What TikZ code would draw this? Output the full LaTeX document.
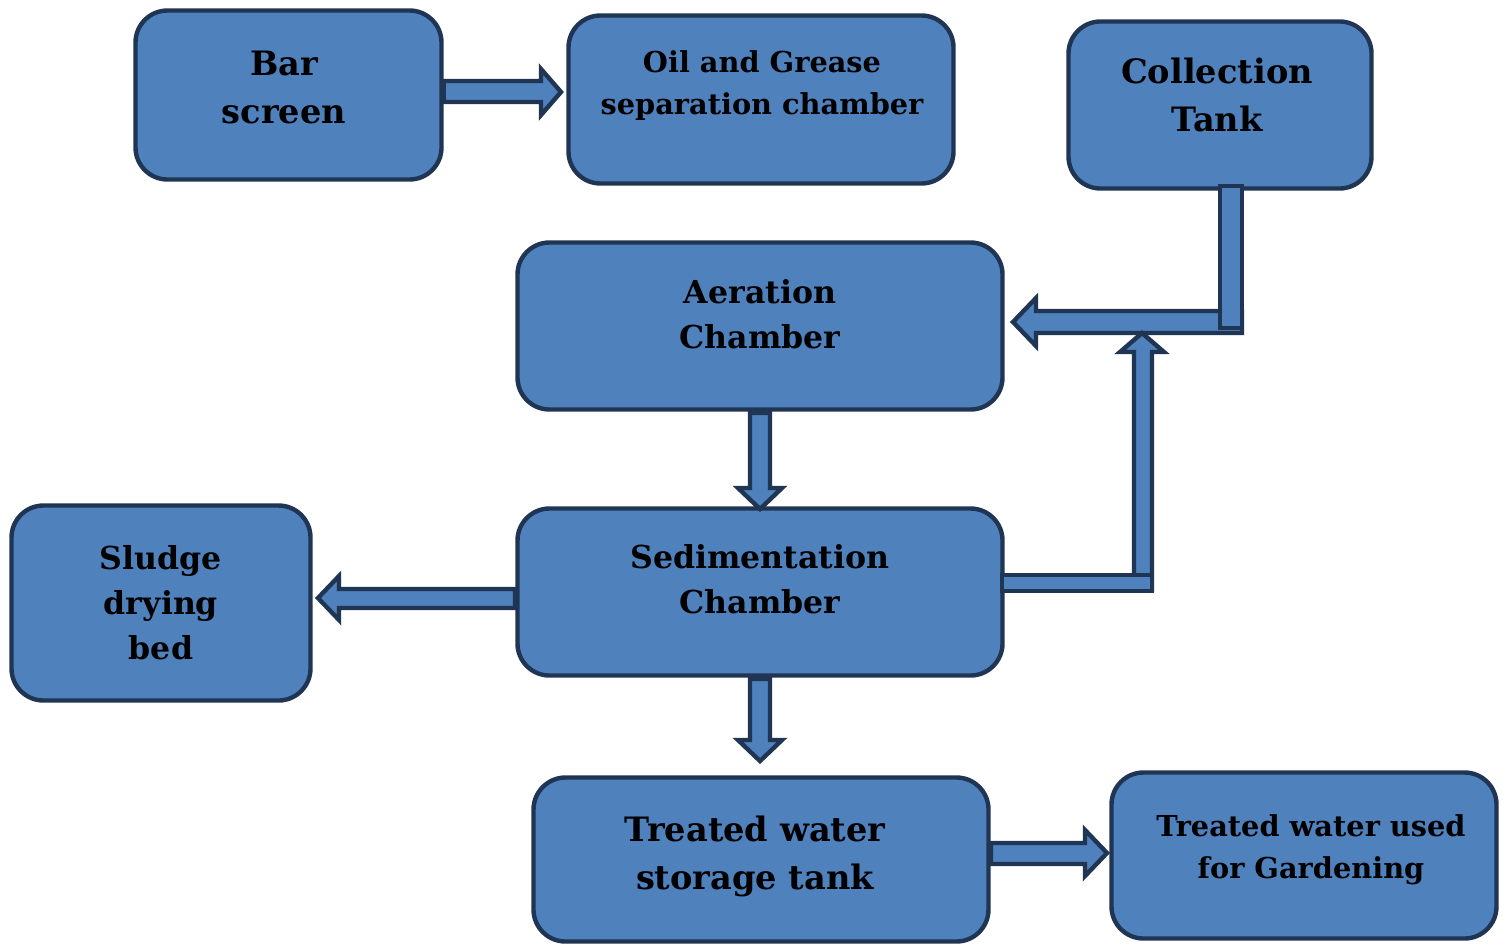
\documentclass[tikz,border=0pt]{standalone}
\usepackage{fontspec}
\setmainfont{DejaVu Serif}
\begin{document}
\begin{tikzpicture}[x=0.5pt,y=-0.5pt]
\definecolor{boxfill}{HTML}{4F81BD}
\definecolor{boxline}{HTML}{1F3553}
\tikzset{
  box/.style={draw=boxline, fill=boxfill, line width=2.2pt, rounded corners=16pt, inner sep=0pt},
  big/.style={font=\fontsize{16.8}{24}\selectfont\bfseries, align=center, inner sep=0pt},
  mid/.style={font=\fontsize{15.8}{22.5}\selectfont\bfseries, align=center, inner sep=0pt},
  small/.style={font=\fontsize{14.4}{21}\selectfont\bfseries, align=center, inner sep=0pt},
  barrow/.style={draw=boxline, fill=boxfill, line width=2.2pt, line join=miter}
}
\useasboundingbox (0,0) rectangle (1508,944);
% boxes
\node[box, minimum width=153pt, minimum height=84.5pt] (bar) at (288.5,95) {};
\node[box, minimum width=192.5pt, minimum height=84pt] (oil) at (761,99.5) {};
\node[box, minimum width=151.5pt, minimum height=83.5pt] (coll) at (1220,105) {};
\node[box, minimum width=242.5pt, minimum height=83.5pt] (aer) at (760,326) {};
\node[box, minimum width=149.5pt, minimum height=97.5pt] (sludge) at (161,603) {};
\node[box, minimum width=242.5pt, minimum height=83.5pt] (sed) at (760,592) {};
\node[box, minimum width=227.5pt, minimum height=82pt] (treat) at (761,859.5) {};
\node[box, minimum width=192.5pt, minimum height=83pt] (gard) at (1304,855.5) {};
% labels
\node[big] (tbar) at (284,87) {Bar\\screen};
\node[small] (toil) at (762,86) {Oil and Grease\\separation chamber};
\node[big] (tcoll) at (1217,94.5) {Collection\\Tank};
\node[mid] (taer) at (760,314.5) {Aeration\\Chamber};
\node[mid] (tsludge) at (161,602.5) {Sludge\\drying\\bed};
\node[mid] (tsed) at (760,579.5) {Sedimentation\\Chamber};
\node[big] (ttreat) at (755,856) {Treated water\\storage tank};
\node[small] (tgard) at (1311,850) {Treated water used\\for Gardening};
% bar screen -> oil
\draw[barrow] (bar.east|-0,81) -- (541,81) -- (541,69) -- (561,92) -- (541,115) -- (541,102) -- (bar.east|-0,102) -- cycle;
% collection -> aeration
\draw[barrow] (1242,311) -- (1036,311) -- (1036,298) -- (1013,322) -- (1036,346) -- (1036,333) -- (1242,333) -- cycle;
\draw[barrow] (1220,186) rectangle (1242,328);
% aeration -> sedimentation
\draw[barrow] (750,413) -- (750,488) -- (738,488) -- (760,509) -- (782,488) -- (770,488) -- (770,413) -- cycle;
% sedimentation -> up
\draw[barrow] (1134,590) -- (1134,352) -- (1120,352) -- (1142,333) -- (1164,352) -- (1152,352) -- (1152,590) -- cycle;
\draw[barrow] (1002,575) rectangle (1152,591);
% sedimentation -> sludge
\draw[barrow] (515,589) -- (339,589) -- (339,576) -- (318,598) -- (339,620) -- (339,608) -- (515,608) -- cycle;
% sedimentation -> treated
\draw[barrow] (750,679) -- (750,740) -- (738,740) -- (760,761) -- (782,740) -- (770,740) -- (770,679) -- cycle;
% treated -> gardening
\draw[barrow] (991,843) -- (1085,843) -- (1085,830) -- (1107,853) -- (1085,876) -- (1085,864) -- (991,864) -- cycle;
\end{tikzpicture}
\end{document}
